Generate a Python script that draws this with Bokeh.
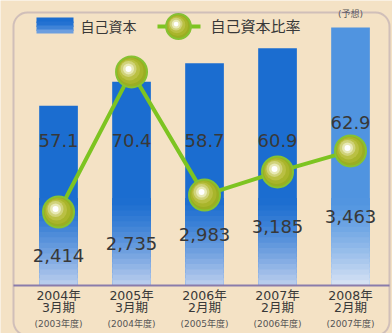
from bokeh.plotting import figure
from bokeh.models import Range1d, BoxAnnotation
from bokeh.core.properties import value
from bokeh.embed import file_html
from bokeh.resources import INLINE

# ---- data ----
periods = ["2004年", "2005年", "2006年", "2007年", "2008年"]
months = ["3月期", "3月期", "2月期", "2月期", "2月期"]
fiscal = ["(2003年度)", "(2004年度)", "(2005年度)", "(2006年度)", "(2007年度)"]
equity = [2414, 2735, 2983, 3185, 3463]          # 自己資本
ratio = [57.1, 70.4, 58.7, 60.9, 62.9]           # 自己資本比率
forecast = [False, False, False, False, True]    # 2008年2月期 = 予想

# ---- style ----
W, H = 392, 333
BG = "#f4e2c5"
BLUE = (27, 109, 208)
BLUE_F = (80, 148, 224)
PALE = (190, 208, 238)
PALE_F = (218, 228, 244)
GREEN = "#7dc421"
TXT = "#383838"
JP = "DejaVu Sans, Noto Sans CJK JP"
NUM = "DejaVu Sans"
SPHERE = [(31, "#9aae22"), (26, "#a9b52b"), (21, "#bac043"), (16, "#d0d27a"),
          (11, "#e8e9b6"), (6, "#ffffff")]


def hexc(c):
    return "#%02x%02x%02x" % tuple(int(round(v)) for v in c)


def mix(a, b, t):
    return tuple(a[i] + (b[i] - a[i]) * t for i in range(3))


XR = Range1d(-0.795, 4.575)
RR = Range1d(45.56, 77.18)
p = figure(width=W, height=H, output_backend="svg", toolbar_location=None,
           x_range=XR, y_range=Range1d(-644, 3826),
           x_axis_location=None, y_axis_location=None,
           min_border=0, background_fill_color=BG, border_fill_color=BG,
           outline_line_color=None)
p.grid.visible = False
p.extra_y_ranges = {"ratio": RR, "py": Range1d(H, 0)}
p.extra_x_ranges = {"px": Range1d(0, W)}

# one screen pixel in data units (for small highlight shifts)
dx = (XR.end - XR.start) / W
dr = (RR.end - RR.start) / H

xs = list(range(len(equity)))

# frame
p.add_layout(BoxAnnotation(left=13, right=389, top=12, bottom=H + 2,
                           x_range_name="px", y_range_name="py",
                           fill_alpha=0, line_color="#7d6e9f", line_width=2,
                           border_radius=14))

# bars (solid part)
bar_cols = [hexc(BLUE_F if f else BLUE) for f in forecast]
p.vbar(x=xs, top=equity, width=0.53, fill_color=bar_cols, line_color=None)

# bars (gradient toward the base)
G, N = 1150, 16
gx, gb, gt, gc = [], [], [], []
for i, v in enumerate(equity):
    top_c = BLUE_F if forecast[i] else BLUE
    bot_c = PALE_F if forecast[i] else PALE
    for k in range(N):
        t = 1 - (k + 0.5) / N
        gx.append(i)
        gb.append(G * k / N)
        gt.append(min(v, G * (k + 1) / N + 25))
        gc.append(hexc(mix(top_c, bot_c, t ** 1.3)))
p.vbar(x=gx, bottom=gb, top=gt, width=0.53, fill_color=gc, line_color=None)

# x axis line
p.segment(x0=[13], x1=[389], y0=[285], y1=[285], x_range_name="px",
          y_range_name="py", line_color="#8a7cab", line_width=2)

# ratio line with spheres
p.line(xs, ratio, y_range_name="ratio", line_color=GREEN, line_width=4)
for j, (s, c) in enumerate(SPHERE):
    sh = min(j, 3) * 1.0
    p.scatter([x - sh * dx for x in xs], [r + sh * dr for r in ratio],
              y_range_name="ratio", size=s, fill_color=c,
              line_color="#86c232" if j == 0 else None, line_width=2)

# value labels
amt_y = [0.5 * v - 800 for v in equity]
p.text(x=xs, y=amt_y, text=[f"{v:,}" for v in equity], text_align="center",
       text_baseline="middle", text_font=value(NUM), text_font_size="18px",
       text_color=TXT)

peak = max(ratio)
rat_y = [63.9 if r == peak else max(63.9, r + 2.7) for r in ratio]
p.text(x=xs, y=rat_y, y_range_name="ratio", text=[f"{r:.1f}" for r in ratio],
       text_align="center", text_baseline="middle", text_font=value(NUM),
       text_font_size="18px", text_color=TXT)

# category labels
p.text(x=xs, y=[0] * 5, text=periods, y_offset=10, text_align="center",
       text_baseline="middle", text_font=value(JP), text_font_size="12.5px",
       text_color=TXT)
p.text(x=xs, y=[0] * 5, text=months, y_offset=22, text_align="center",
       text_baseline="middle", text_font=value(JP), text_font_size="12.5px",
       text_color=TXT)
p.text(x=xs, y=[0] * 5, text=fiscal, y_offset=38, text_align="center",
       text_baseline="middle", text_font=value(JP), text_font_size="9px",
       text_color="#555555")

# 予想 tag
fi = [i for i, f in enumerate(forecast) if f]
p.text(x=fi, y=[equity[i] for i in fi], text=["(予想)"] * len(fi), y_offset=-14,
       text_align="center", text_baseline="middle", text_font=value(JP),
       text_font_size="9px", text_color="#555555")

# legend (drawn manually)
sw_b, sw_t, sw_c = [], [], []
for k in range(4):
    sw_t.append(17 + 16 * k / 4)
    sw_b.append(min(33, 17 + 16 * (k + 1) / 4 + 1.5))
    sw_c.append(hexc(mix(BLUE, PALE, (k / 3) ** 2 * 0.5)))
p.quad(left=[36] * 4, right=[73] * 4, top=sw_t, bottom=sw_b, fill_color=sw_c,
       line_color=None, x_range_name="px", y_range_name="py")
p.text(x=[80], y=[26], text=["自己資本"], text_align="left",
       text_baseline="middle", text_font=value(JP), text_font_size="14px",
       text_color=TXT, x_range_name="px", y_range_name="py")
p.line([157, 200], [26, 26], line_color=GREEN, line_width=4,
       x_range_name="px", y_range_name="py")
for j, (s, c) in enumerate(SPHERE):
    sh = min(j, 3) * 0.8
    p.scatter([178 - sh], [26 - sh], size=s * 0.8, fill_color=c,
              line_color="#86c232" if j == 0 else None, line_width=2,
              x_range_name="px", y_range_name="py")
p.text(x=[210], y=[26], text=["自己資本比率"], text_align="left",
       text_baseline="middle", text_font=value(JP), text_font_size="15px",
       text_color=TXT, x_range_name="px", y_range_name="py")

open("out.html", "w").write(file_html(p, INLINE))
